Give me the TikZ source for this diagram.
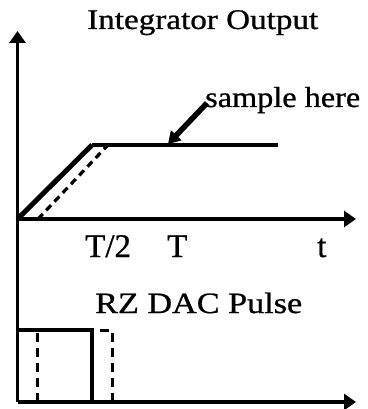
\documentclass[tikz,border=0pt]{standalone}
\usepackage{fontspec}
\setmainfont{Liberation Serif}
\newfontfamily\heavy{Liberation Serif}[FakeBold=0.8]
\usetikzlibrary{arrows.meta}
\tikzset{
  axis/.style={line width=3.4pt, -{Triangle[length=12pt,width=16pt]}},
  solidline/.style={line width=3.4pt},
  dashline/.style={line width=3.2pt, dash pattern=on 7pt off 5pt},
  lbl/.style={inner sep=0pt, anchor=base west, font=\heavy},
}
\begin{document}
\begin{tikzpicture}[x=1pt,y=-1pt]
\useasboundingbox (0,0) rectangle (367,409);
% axes
\coordinate (Ytop) at (17.5,31);
\coordinate (O) at (17.5,219);
\coordinate (Xend) at (356,219);
\coordinate (B0) at (17.5,402);
\coordinate (Bend) at (356,402);
\draw[axis] (B0) -- (Ytop);
\draw[axis] (O) -- (Xend);
\draw[axis] (B0) -- (Bend);
% integrator output
\coordinate (P) at (92,145);
\coordinate (E) at (278,145);
\draw[line width=5pt] (O) -- (P);
\draw[solidline] (P) -- (E);
\coordinate (D0) at (38,219);
\coordinate (D1) at (107,146);
\draw[dashline] (D0) -- (D1);
% sample arrow
\coordinate (S0) at (207,103);
\coordinate (S1) at (168,144);
\draw[line width=5.5pt, -{Triangle[length=12pt,width=14pt]}] (S0) -- (S1);
% pulses
\coordinate (R0) at (17.5,330);
\coordinate (R1) at (92,330);
\coordinate (R2) at (92,402);
\draw[solidline] (R0) -- (R1) -- (R2);
\coordinate (Q0) at (37,402);
\coordinate (Q1) at (37,330);
\coordinate (Q2) at (112,330);
\coordinate (Q3) at (112,402);
\draw[line width=3pt, dash pattern=on 9pt off 6pt] (Q0) -- (Q1) -- (Q2) -- (Q3);
% labels
\node[lbl] (title) at (87,29) {\resizebox{231pt}{\height}{\fontsize{28.5}{30}\selectfont Integrator Output}};
\node[lbl] (sample) at (205,107) {\resizebox{155pt}{\height}{\fontsize{29}{30}\selectfont sample here}};
\node[lbl] (half) at (85,257) {\fontsize{33}{36}\selectfont T/2};
\node[lbl] (T) at (167,257) {\fontsize{33}{36}\selectfont T};
\node[lbl] (t) at (317,257) {\fontsize{33}{36}\selectfont t};
\node[lbl] (rz) at (95,313) {\resizebox{207pt}{\height}{\fontsize{29.5}{30}\selectfont RZ DAC Pulse}};
\end{tikzpicture}
\end{document}
